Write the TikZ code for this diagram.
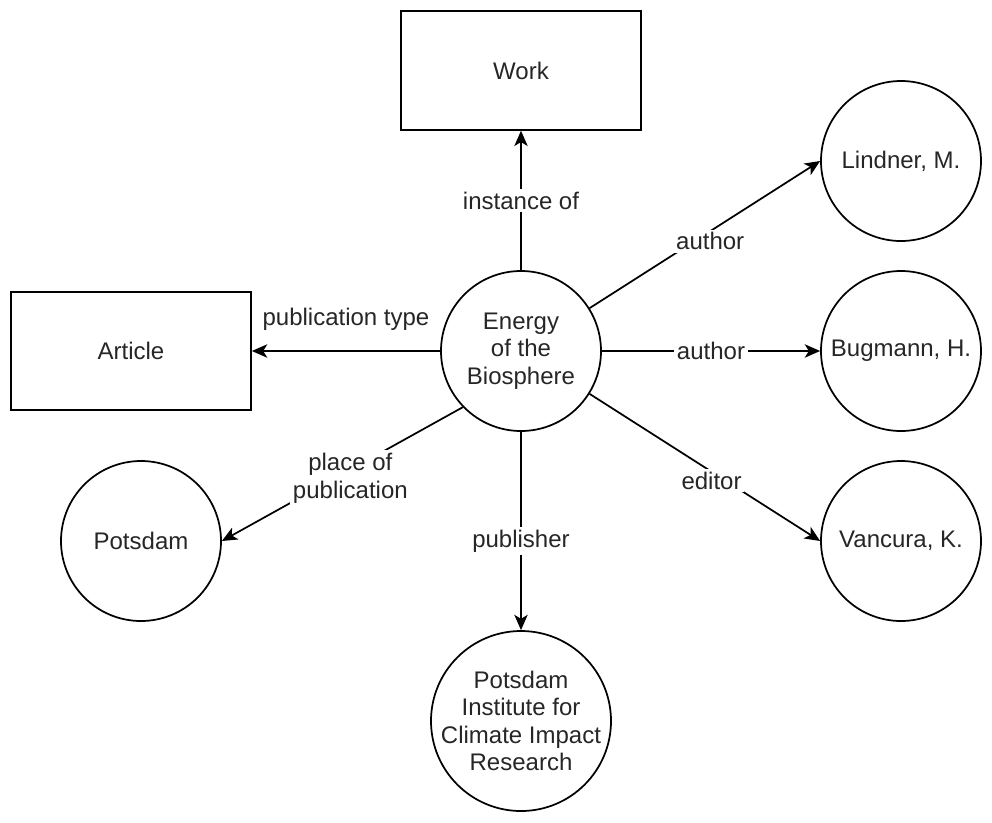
\documentclass[tikz,border=0pt]{standalone}
\usepackage{fontspec}
\setmainfont{Liberation Sans}
\usetikzlibrary{arrows.meta, positioning}

\begin{document}
\begin{tikzpicture}[x=0.75pt, y=-0.75pt,
    every node/.style={font=\fontsize{18}{20.7}\selectfont, align=center, text=black!85},
    thing/.style={draw, circle, line width=1.3pt, minimum size=120pt, inner sep=0pt},
    kind/.style={draw, rectangle, line width=1.3pt, minimum width=180pt, minimum height=89pt},
    rel/.style={-{Stealth[length=11.5pt, width=10pt, inset=3pt]}, line width=1.3pt},
    lbl/.style={fill=white, inner sep=2pt}]
    \useasboundingbox (0,0) rectangle (992,822);

    % the work and its classes
    \node[thing] (energy) at (521,351) {Energy\\of the\\Biosphere};
    \node[kind] (work) at (521,70.5) {Work};
    \node[kind] (article) at (131,351) {Article};

    % people, places, publisher
    \node[thing] (lindner) at (901,161) {Lindner, M.};
    \node[thing] (bugmann) at (901,351) {Bugmann, H.};
    \node[thing] (vancura) at (901,541) {Vancura, K.};
    \node[thing] (potsdam) at (141,541) {Potsdam};
    \node[thing, minimum size=135pt, inner sep=-6pt] (pik) at (521,721) {Potsdam\\Institute for\\Climate Impact\\Research};

    % statements
    \draw[rel] (energy) -- node[lbl] {instance of} (work);
    \draw[rel] (energy) -- node[lbl, above=13pt] {publication type} (article);
    \draw[rel] (energy.32) -- node[lbl, xshift=4pt, yshift=-5pt] {author} (lindner.west);
    \draw[rel] (energy) -- node[lbl] {author} (bugmann);
    \draw[rel] (energy.-32) -- node[lbl, xshift=5pt, yshift=-10pt] {editor} (vancura.west);
    \draw[rel] (energy.224) -- node[lbl, xshift=6pt, yshift=-3pt] {place of\\publication} (potsdam.east);
    \draw[rel] (energy) -- node[lbl, pos=0.55] {publisher} (pik);
\end{tikzpicture}
\end{document}
